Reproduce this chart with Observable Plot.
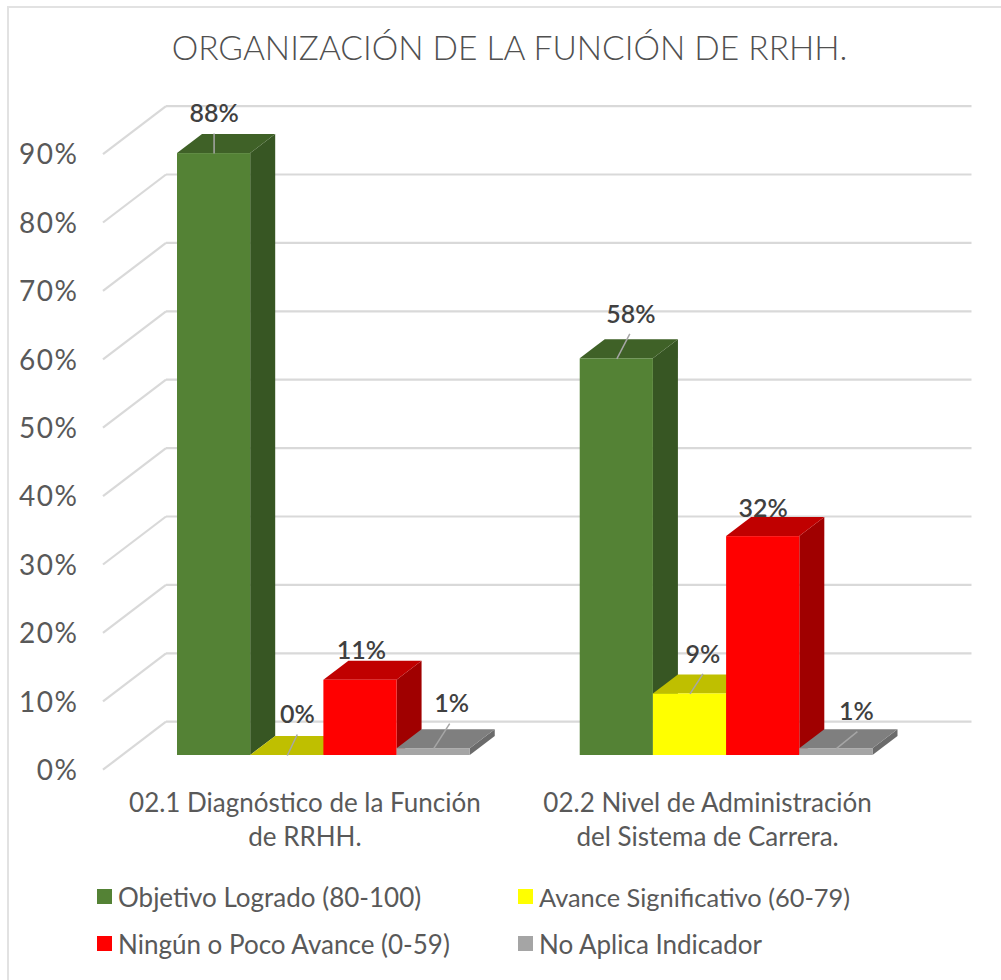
<!DOCTYPE html>
<html lang="es">
<head>
<meta charset="utf-8">
<script src="https://cdn.jsdelivr.net/npm/d3@7"></script>
<script src="https://cdn.jsdelivr.net/npm/@observablehq/plot@0.6"></script>
<style>
  html, body { margin: 0; padding: 0; background: #fff; }
  #page { position: relative; width: 1001px; height: 980px; overflow: hidden; font-family: Lato, sans-serif; color: #595959; }
  #frame { position: absolute; left: 7px; top: 6px; width: 1100px; height: 1100px; border: 2px solid #e2e2e2; box-sizing: border-box; }
  #title { position: absolute; left: 0; top: 24px; width: 1019px; text-align: center; font-size: 33.5px; font-weight: 300; line-height: 46px; color: #505050; white-space: nowrap; }
  #chart { position: absolute; left: 0; top: 85px; }
  #chart g[aria-label="y-axis tick label"] text { letter-spacing: 1.5px; }
  #legend { position: absolute; left: 97px; top: 873px; display: grid; grid-template-columns: 421px 400px; grid-auto-rows: 47px; font-size: 26px; align-items: center; }
  #legend .item { display: flex; align-items: center; gap: 6px; white-space: nowrap; }
  #legend .item:nth-child(2) span { font-size: 25.4px; }
  #legend i { display: block; width: 15px; height: 15px; }
</style>
</head>
<body>
<div id="page">
  <div id="frame"></div>
  <div id="title"></div>
  <div id="chart"></div>
  <div id="legend"></div>
</div>
<script>
const chartTitle = "ORGANIZACIÓN DE LA FUNCIÓN DE RRHH.";
const categories = ["02.1 Diagnóstico de la Función\nde RRHH.", "02.2 Nivel de Administración\ndel Sistema de Carrera."];
const seriesNames = ["Objetivo Logrado (80-100)", "Avance Significativo (60-79)", "Ningún o Poco Avance (0-59)", "No Aplica Indicador"];
const group1Values = [88, 0, 11, 1];
const group2Values = [58, 9, 32, 1];
const yTicks = [0, 10, 20, 30, 40, 50, 60, 70, 80, 90];

const frontColors = ["#548235", "#FFFF00", "#FF0000", "#A5A5A5"];
const topColors = ["#3F6127", "#BFBF00", "#C00000", "#7F7F7F"];
const sideColors = ["#375623", "#A6A600", "#A00000", "#6B6B6B"];

// Layout, in pixels
const plotWidth = 1001, marginLeft = 122, marginRight = 73.5;
const barDepthX = 25, barDepthY = 19;
const wallDX = 44, wallDY = -33.3, floorDX = -19, floorDY = 14.7;

// Label layout per group/series: text offset and leader end from the top centre of the bar
const labelOffsets = [
  [{dx: 0, dy: -40, lx: 0, ly: -20}, {dx: 10, dy: -41, lx: 10, ly: -21}, {dx: 1, dy: -29}, {dx: 18, dy: -45, lx: 16, ly: -25}],
  [{dx: 14, dy: -44, lx: 13, ly: -25}, {dx: 13, dy: -39, lx: 13, ly: -20}, {dx: 0, dy: -28}, {dx: 20, dy: -37, lx: 21, ly: -17}]
];

const rows = categories.flatMap((category, g) =>
  seriesNames.map((series, s) => ({category, series, g, s, value: [group1Values, group2Values][g][s]}))
);

const svgNS = "http://www.w3.org/2000/svg";
function poly(points, fill) {
  const p = document.createElementNS(svgNS, "polygon");
  p.setAttribute("points", points.map(d => d.join(",")).join(" "));
  p.setAttribute("fill", fill);
  return p;
}
function seg(x1, y1, x2, y2, stroke, width) {
  const l = document.createElementNS(svgNS, "line");
  for (const [k, v] of Object.entries({x1, y1, x2, y2, stroke, "stroke-width": width})) l.setAttribute(k, v);
  return l;
}

// Draws the side and top faces behind the library's own front rect
function barFaces(s) {
  return function(index, scales, values, dimensions, context, next) {
    const g = next(index, scales, values, dimensions, context);
    const data = rows.filter(d => d.s === s);
    const faces = document.createElementNS(svgNS, "g");
    const bw = scales.x.bandwidth();
    for (const i of index) {
      const d = data[i];
      const x0 = scales.x(d.series), x1 = x0 + bw, yT = scales.y(d.value), yB = scales.y(0);
      const dx = barDepthX, dy = barDepthY;
      faces.append(poly([[x1, yB], [x1 + dx, yB - dy], [x1 + dx, yT - dy], [x1, yT]], sideColors[s]));
      faces.append(poly([[x0, yT], [x0 + dx, yT - dy], [x1 + dx, yT - dy], [x1, yT]], topColors[s]));
    }
    g.insertBefore(faces, g.firstChild);
    return g;
  };
}

// Leader lines next to the value labels (the group carries the label's dx, dy and half the band)
function labelLeaders(d, o) {
  return function(index, scales, values, dimensions, context, next) {
    const g = next(index, scales, values, dimensions, context);
    if (o.lx !== undefined) {
      const x = scales.x(d.series) - o.dx, y = scales.y(d.value) - o.dy;
      g.insertBefore(seg(x, y, x + o.lx, y + o.ly, "#a6a6a6", 1.5), g.firstChild);
    }
    return g;
  };
}

// Back-wall gridlines and floor diagonals, read through the y scale over the whole frame
function wallGrid(index, scales) {
  const g = document.createElementNS(svgNS, "g");
  const left = marginLeft, right = plotWidth - marginRight;
  for (const t of yTicks) {
    const y = scales.y(t);
    g.append(seg(left + wallDX, y + wallDY, right + wallDX, y + wallDY, "#d9d9d9", 2.2));
    g.append(seg(left + wallDX, y + wallDY, left + floorDX, y + floorDY, "#d9d9d9", 2.2));
  }
  return g;
}

const fxOuter = 55 / 402.7;
const plot = Plot.plot({
  width: plotWidth,
  height: 775,
  marginLeft,
  marginRight,
  marginTop: 54.4,
  marginBottom: 105,
  style: {fontFamily: "Lato, sans-serif", background: "transparent", overflow: "visible"},
  fx: {domain: categories, paddingInner: 0.273, paddingOuter: fxOuter, round: false, label: null},
  x: {domain: seriesNames, padding: 0, round: false, axis: null, label: null},
  y: {domain: [0, 90], label: null, axis: null},
  color: {domain: seriesNames, range: frontColors},
  marks: [
    Plot.frame({facet: "super", render: wallGrid}),
    ...seriesNames.map((name, s) =>
      Plot.barY(rows.filter(d => d.s === s), {fx: "category", x: "series", y: "value", fill: "series", render: barFaces(s)})
    ),
    ...rows.map(d => {
      const o = labelOffsets[d.g][d.s];
      return Plot.text([d], {
        fx: "category", x: "series", y: "value", text: r => r.value + "%",
        dx: o.dx, dy: o.dy, fontSize: 25, fontWeight: 600, fill: "#404040",
        render: labelLeaders(d, o)
      });
    }),
    Plot.axisY(yTicks, {anchor: "left", label: null, tickSize: 0, tickPadding: 99, dy: 15.5, fontSize: 28, color: "#595959", tickFormat: d => d + "%"}),
    Plot.axisFx({anchor: "bottom", label: null, tickSize: 0, tickPadding: 32, dx: floorDX, fontSize: 26, lineHeight: 1.31, color: "#595959", tickFormat: d => d})
  ]
});

document.getElementById("chart").append(plot);
document.getElementById("title").textContent = chartTitle;
const legend = document.getElementById("legend");
seriesNames.forEach((name, s) => {
  const item = document.createElement("div");
  item.className = "item";
  const sw = document.createElement("i");
  sw.style.background = frontColors[s];
  const label = document.createElement("span");
  label.textContent = name;
  item.append(sw, label);
  legend.append(item);
});
</script>
</body>
</html>
